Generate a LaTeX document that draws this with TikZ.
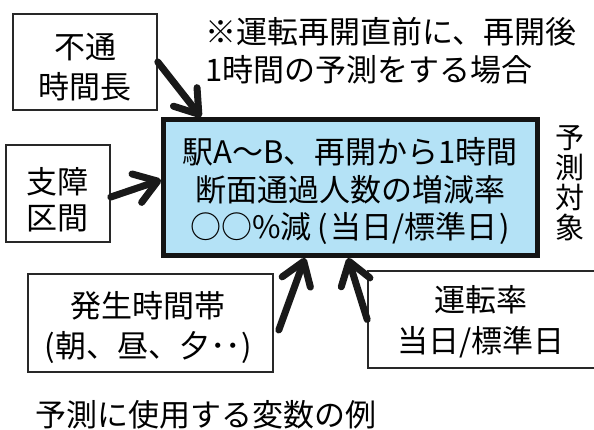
\documentclass[tikz,border=0pt]{standalone}
\usepackage{fontspec}
\setmainfont{Noto Sans CJK JP}
\usetikzlibrary{arrows.meta,calc}
\definecolor{mainblue}{RGB}{180,226,246}
\definecolor{linegray}{RGB}{40,40,40}
\begin{document}
\begin{tikzpicture}[x=1pt,y=-1pt,
  box/.style={draw=linegray, line width=1.6pt, inner sep=0pt},
  txt/.style={align=center, inner sep=0pt, font=\fontsize{31}{40}\selectfont},
  arr/.style={line width=7pt, line cap=round, black!90,
    -{Straight Barb[length=22pt,width=30pt,round]}}
]
\useasboundingbox (0,0) rectangle (594,429);
\clip (0,0) rectangle (594,429);
\fill[white] (0,0) rectangle (594,429);

% boxes
\node[box, minimum width=144pt, minimum height=96pt] (futsu) at (85,62) {};
\node[box, minimum width=104pt, minimum height=97pt] (shisho) at (58,193.5) {};
\node[draw=black!92, line width=5pt, fill=mainblue, inner sep=0pt,
      minimum width=374pt, minimum height=136pt] (main) at (350.5,187.5) {};
\node[box, minimum width=245pt, minimum height=98pt] (hassei) at (150.5,323) {};
\node[box, minimum width=252pt, minimum height=97pt] (unten) at (494,319.5) {};

% texts
\node[txt] (futsutxt) at (85,67) {不通\\時間長};
\node[txt, font=\fontsize{31}{36}\selectfont] (shishotxt) at (58,200) {支障\\区間};
\node[txt, font=\fontsize{31}{37.5}\selectfont] (maintxt) at (350,191)
  {駅A〜B、再開から1時間\\断面通過人数の増減率\\○○\%減\hspace{6pt}(\hspace{2pt}当日/標準日\hspace{2pt})};
\node[txt, align=left, anchor=west, font=\fontsize{31}{38}\selectfont] (note) at (205,51)
  {※運転再開直前に、再開後\\1時間の予測をする場合};
\node[txt, font=\fontsize{29}{30}\selectfont] (target) at (570,183) {予\\測\\対\\象};
\node[txt] (hasseitxt) at (148,327) {発生時間帯\\(朝、昼、夕･･)};
\node[txt, font=\fontsize{31}{41}\selectfont] (untentxt) at (481,322) {運転率\\当日/標準日};
\node[txt, anchor=west] (caption) at (35,415) {予測に使用する変数の例};

% arrows
\draw[arr] (futsu.east) -- ([xshift=40pt]main.north west);
\draw[arr] ([yshift=-3.5pt]shisho.east) -- ([yshift=7.5pt]main.west);
\draw[arr] ([xshift=5pt,yshift=-7pt]hassei.east) -- ([xshift=144pt]main.south west);
\draw[arr] (unten.west) -- ([xshift=187pt]main.south west);
\end{tikzpicture}
\end{document}
